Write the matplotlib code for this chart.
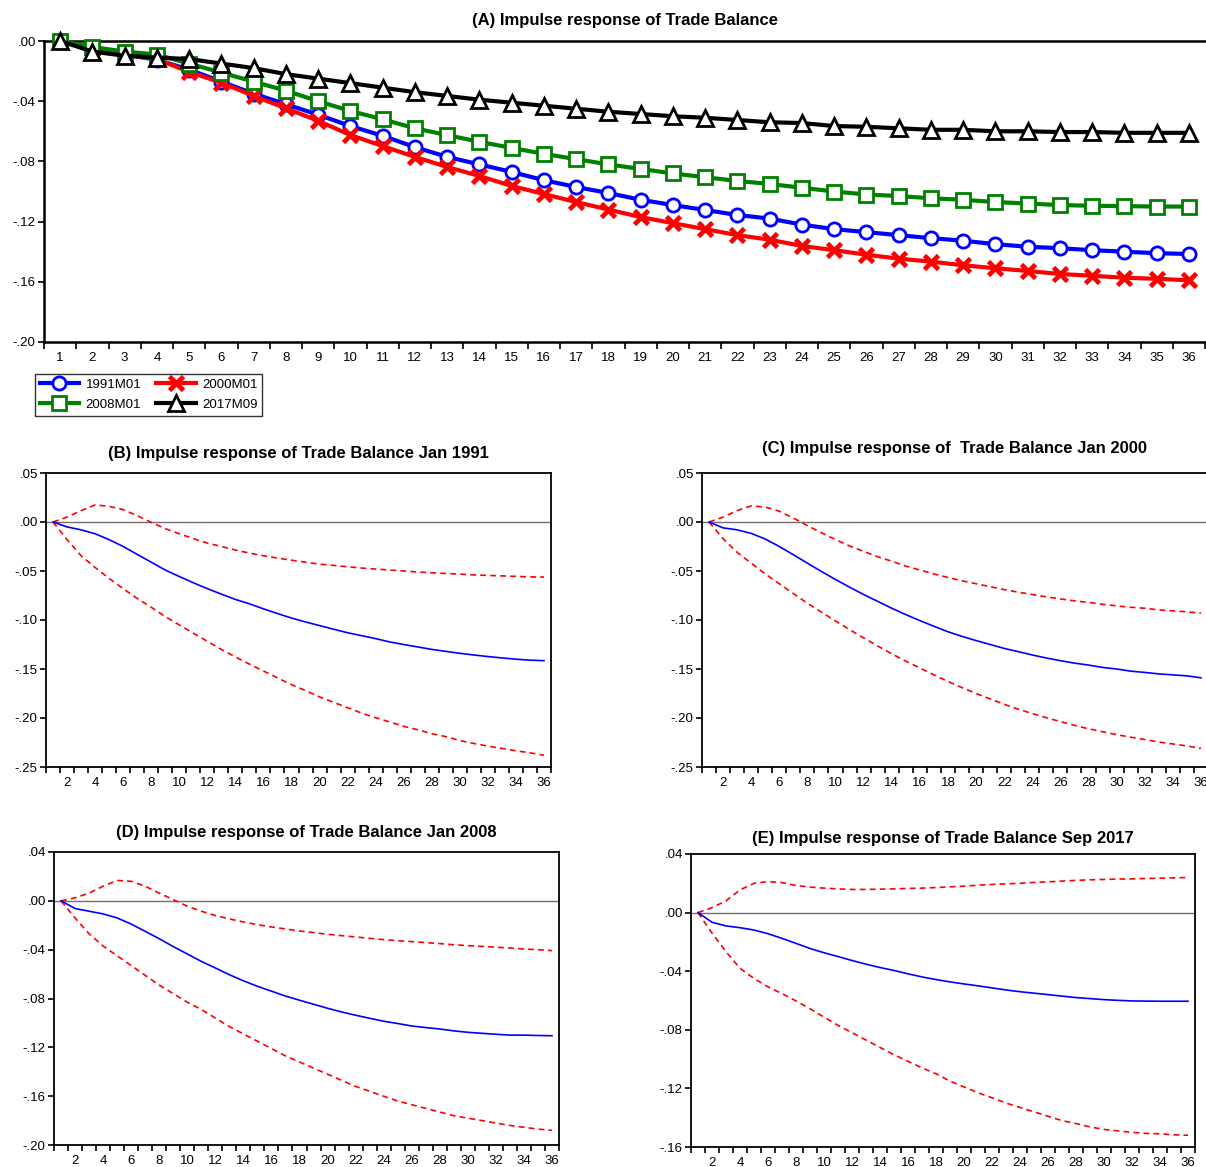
import numpy as np
import matplotlib
matplotlib.use("Agg")
import matplotlib.pyplot as plt
from matplotlib.ticker import FuncFormatter, MultipleLocator, FixedLocator

plt.rcParams['font.family'] = ['Liberation Sans', 'DejaVu Sans']

# horizon
steps = list(range(1, 37))

# (A) responses of trade balance, four dates
s1991 = [0, -0.005, -0.009, -0.0125, -0.019, -0.027, -0.035, -0.042, -0.049, -0.0565, -0.063, -0.0705,
         -0.077, -0.082, -0.087, -0.0925, -0.097, -0.101, -0.1055, -0.109, -0.1123, -0.1156, -0.118, -0.122,
         -0.125, -0.127, -0.129, -0.131, -0.1327, -0.135, -0.1367, -0.1377, -0.139, -0.140, -0.141, -0.1415]
s2000 = [0, -0.005, -0.009, -0.012, -0.0205, -0.0277, -0.0365, -0.0447, -0.053, -0.0625, -0.0698, -0.077,
         -0.0837, -0.0897, -0.0963, -0.1017, -0.107, -0.112, -0.117, -0.121, -0.125, -0.129, -0.132, -0.1362,
         -0.139, -0.142, -0.1446, -0.1466, -0.149, -0.151, -0.1528, -0.1548, -0.156, -0.1573, -0.158, -0.159]
s2008 = [0, -0.004, -0.007, -0.009, -0.015, -0.021, -0.027, -0.033, -0.040, -0.0465, -0.052, -0.058,
         -0.0625, -0.067, -0.071, -0.075, -0.0785, -0.082, -0.085, -0.088, -0.0905, -0.093, -0.095, -0.0975,
         -0.100, -0.102, -0.103, -0.1045, -0.1055, -0.107, -0.108, -0.109, -0.1095, -0.1097, -0.110, -0.110]
s2017 = [0, -0.007, -0.0098, -0.011, -0.012, -0.015, -0.018, -0.022, -0.025, -0.028, -0.031, -0.034,
         -0.0365, -0.039, -0.041, -0.043, -0.045, -0.047, -0.0485, -0.050, -0.051, -0.0525, -0.054, -0.0545,
         -0.0565, -0.057, -0.058, -0.059, -0.059, -0.060, -0.060, -0.0605, -0.0605, -0.061, -0.061, -0.061]

# (B) Jan 1991 : response, upper band, lower band
b_resp = [0, -0.005, -0.008, -0.012, -0.018, -0.025, -0.033, -0.041, -0.049, -0.0556, -0.062, -0.068,
          -0.0736, -0.079, -0.0835, -0.0886, -0.0934, -0.098, -0.102, -0.1057, -0.1094, -0.113, -0.116, -0.119,
          -0.1224, -0.125, -0.1275, -0.130, -0.132, -0.134, -0.1357, -0.1373, -0.1387, -0.140, -0.141, -0.1415]
b_up = [0, 0.005, 0.0116, 0.0174, 0.016, 0.0126, 0.0065, -0.0003, -0.0068, -0.012, -0.017, -0.0215,
        -0.025, -0.0286, -0.0317, -0.0344, -0.0368, -0.039, -0.041, -0.043, -0.0443, -0.0457, -0.047, -0.048,
        -0.049, -0.050, -0.051, -0.0518, -0.0525, -0.0532, -0.054, -0.0545, -0.055, -0.0555, -0.056, -0.0562]
b_lo = [0, -0.018, -0.0344, -0.0464, -0.0576, -0.068, -0.078, -0.087, -0.0965, -0.105, -0.1135, -0.1217,
        -0.130, -0.1377, -0.145, -0.152, -0.159, -0.166, -0.172, -0.1785, -0.184, -0.1895, -0.195, -0.1997,
        -0.204, -0.2085, -0.212, -0.216, -0.219, -0.223, -0.226, -0.2287, -0.231, -0.2335, -0.2355, -0.238]

# (C) Jan 2000
c_resp = [0, -0.006, -0.008, -0.0116, -0.0174, -0.025, -0.0334, -0.042, -0.0505, -0.0587, -0.0665, -0.074,
          -0.081, -0.088, -0.0945, -0.1006, -0.1064, -0.112, -0.1167, -0.121, -0.125, -0.129, -0.1323, -0.1357,
          -0.1388, -0.1415, -0.144, -0.146, -0.1484, -0.150, -0.1522, -0.1535, -0.155, -0.156, -0.157, -0.159]
c_up = [0, 0.005, 0.0116, 0.0164, 0.0153, 0.011, 0.004, -0.0037, -0.011, -0.018, -0.0245, -0.030,
        -0.0355, -0.040, -0.045, -0.049, -0.053, -0.0566, -0.060, -0.063, -0.066, -0.069, -0.0716, -0.074,
        -0.0764, -0.0785, -0.0805, -0.082, -0.084, -0.0856, -0.087, -0.088, -0.0897, -0.0907, -0.0917, -0.093]
c_lo = [0, -0.017, -0.031, -0.042, -0.053, -0.063, -0.073, -0.083, -0.092, -0.101, -0.1098, -0.1183,
        -0.1265, -0.1345, -0.142, -0.149, -0.156, -0.1627, -0.169, -0.175, -0.1805, -0.186, -0.191, -0.1955,
        -0.1997, -0.2037, -0.2075, -0.211, -0.214, -0.217, -0.2196, -0.222, -0.2245, -0.2265, -0.2285, -0.231]

# (D) Jan 2008
d_resp = [0, -0.0063, -0.0085, -0.0107, -0.014, -0.019, -0.025, -0.031, -0.0375, -0.0435, -0.0496, -0.055,
          -0.0605, -0.0655, -0.070, -0.074, -0.078, -0.0814, -0.0847, -0.088, -0.091, -0.0937, -0.0962, -0.0986,
          -0.1005, -0.1025, -0.1038, -0.105, -0.1065, -0.1077, -0.1085, -0.1093, -0.110, -0.110, -0.1103, -0.1105]
d_up = [0, 0.0025, 0.0063, 0.012, 0.0167, 0.016, 0.012, 0.0063, 0.001, -0.0044, -0.0085, -0.012,
        -0.0148, -0.0173, -0.0195, -0.0214, -0.023, -0.0247, -0.026, -0.0274, -0.0285, -0.0296, -0.0307, -0.0318,
        -0.0326, -0.0334, -0.0342, -0.035, -0.036, -0.0367, -0.0373, -0.038, -0.0386, -0.0395, -0.040, -0.0408]
d_lo = [0, -0.014, -0.027, -0.037, -0.045, -0.053, -0.061, -0.069, -0.076, -0.083, -0.089, -0.096,
        -0.103, -0.109, -0.115, -0.121, -0.127, -0.132, -0.137, -0.142, -0.147, -0.152, -0.156, -0.160,
        -0.164, -0.167, -0.170, -0.173, -0.176, -0.178, -0.180, -0.182, -0.184, -0.1855, -0.187, -0.188]

# (E) Sep 2017
e_resp = [0, -0.0066, -0.0091, -0.0103, -0.0119, -0.0144, -0.0176, -0.021, -0.0245, -0.0274, -0.030, -0.0327,
          -0.0352, -0.0375, -0.0395, -0.0418, -0.0439, -0.0457, -0.0473, -0.0487, -0.050, -0.0514, -0.0528, -0.054,
          -0.055, -0.056, -0.057, -0.058, -0.0587, -0.0594, -0.0599, -0.0603, -0.0604, -0.0605, -0.0605, -0.0605]
e_up = [0, 0.0034, 0.008, 0.0155, 0.020, 0.0212, 0.0205, 0.0185, 0.0174, 0.0167, 0.0162, 0.0158,
        0.0158, 0.016, 0.0162, 0.0165, 0.0167, 0.0171, 0.0176, 0.018, 0.0187, 0.0192, 0.0196, 0.020,
        0.0206, 0.021, 0.0215, 0.022, 0.0224, 0.0226, 0.0229, 0.023, 0.0233, 0.0235, 0.0237, 0.024]
e_lo = [0, -0.014, -0.0267, -0.038, -0.045, -0.0507, -0.0553, -0.0603, -0.0656, -0.0713, -0.077, -0.082,
        -0.087, -0.092, -0.097, -0.1015, -0.106, -0.110, -0.115, -0.119, -0.123, -0.1264, -0.130, -0.133,
        -0.136, -0.139, -0.142, -0.144, -0.1463, -0.148, -0.149, -0.150, -0.1507, -0.151, -0.1517, -0.152]

W, H = 1206, 1167
fig = plt.figure(figsize=(W / 100, H / 100), dpi=100)


def box(l, t, r, b):
    return fig.add_axes([l / W, 1 - b / H, (r - l) / W, (b - t) / H])


def yfmt(v, pos):
    s = "%.2f" % (round(v, 4) + 0.0)
    return s.replace("0.", ".", 1)


def style(ax, ylo, yhi, ystep, xlab, lw=1.3):
    ax.set_xlim(0.5, 36.5)
    ax.set_ylim(ylo, yhi)
    ax.yaxis.set_major_locator(MultipleLocator(ystep))
    ax.yaxis.set_major_formatter(FuncFormatter(yfmt))
    ax.xaxis.set_major_locator(FixedLocator(xlab))
    ax.xaxis.set_minor_locator(FixedLocator(np.arange(0.5, 37, 1)))
    ax.tick_params(axis='x', which='major', length=0, pad=7, labelsize=9.5)
    ax.tick_params(axis='x', which='minor', length=4, width=1.2, direction='out')
    ax.tick_params(axis='y', length=4, width=1.2, direction='out', pad=2, labelsize=9.5)
    for sp in ax.spines.values():
        sp.set_linewidth(lw)


# ---- panel A
axA = box(44, 41, 1205, 342)
style(axA, -0.20, 0.0, 0.04, steps, lw=1.8)
axA.spines['right'].set_visible(False)
axA.tick_params(axis='x', which='minor', length=5)
axA.plot(steps, s1991, color='#0000ff', lw=3, marker='o', ms=9.5, mfc='white', mec='#0000ff', mew=2,
         label='1991M01', zorder=3)
axA.plot(steps, s2000, color='#ff0000', lw=3, marker='x', ms=9.5, mec='#ff0000', mew=3.4,
         label='2000M01', zorder=4)
axA.plot(steps, s2008, color='#008000', lw=3, marker='s', ms=9.5, mfc='white', mec='#008000', mew=2,
         label='2008M01', zorder=5)
axA.plot(steps, s2017, color='black', lw=3, marker='^', ms=11, mfc='white', mec='black', mew=2,
         label='2017M09', zorder=6)
axA.set_title('(A) Impulse response of Trade Balance', fontsize=12, fontweight='bold', pad=11.5)
for ln in axA.lines:
    ln.set_clip_on(False)

h, l = axA.get_legend_handles_labels()
order = [0, 2, 1, 3]
leg = fig.legend([h[i] for i in order], [l[i] for i in order], ncol=2, loc='upper left',
                 bbox_to_anchor=(35 / W, 1 - 374 / H), fontsize=9.5, frameon=True, fancybox=False,
                 edgecolor='black', handlelength=3.0, handletextpad=0.5, columnspacing=1.1,
                 labelspacing=0.6, borderpad=0.35, borderaxespad=0)
leg.get_frame().set_linewidth(1.0)

# ---- panels B-E
panels = [
    ((46, 473, 551, 767), -0.25, 0.05, 0.05, b_resp, b_up, b_lo,
     '(B) Impulse response of Trade Balance Jan 1991', 11),
    ((702, 473, 1208, 767), -0.25, 0.05, 0.05, c_resp, c_up, c_lo,
     '(C) Impulse response of  Trade Balance Jan 2000', 14.5),
    ((54, 852, 559, 1145), -0.20, 0.04, 0.04, d_resp, d_up, d_lo,
     '(D) Impulse response of Trade Balance Jan 2008', 11),
    ((691, 854, 1195, 1147), -0.16, 0.04, 0.04, e_resp, e_up, e_lo,
     '(E) Impulse response of Trade Balance Sep 2017', 8),
]
for (bx, ylo, yhi, ystep, resp, up, lo, title, tpad) in panels:
    ax = box(*bx)
    style(ax, ylo, yhi, ystep, list(range(2, 37, 2)))
    ax.axhline(0, color='#6e6e6e', lw=1.0, zorder=1)
    ax.plot(steps, resp, color='#0000ff', lw=1.2, zorder=3)
    ax.plot(steps, up, color='#ff0000', lw=1.2, ls=(0, (3.5, 2.5)), zorder=2)
    ax.plot(steps, lo, color='#ff0000', lw=1.2, ls=(0, (3.5, 2.5)), zorder=2)
    ax.set_title(title, fontsize=12, fontweight='bold', pad=tpad)

fig.savefig('out.png', dpi=100)
